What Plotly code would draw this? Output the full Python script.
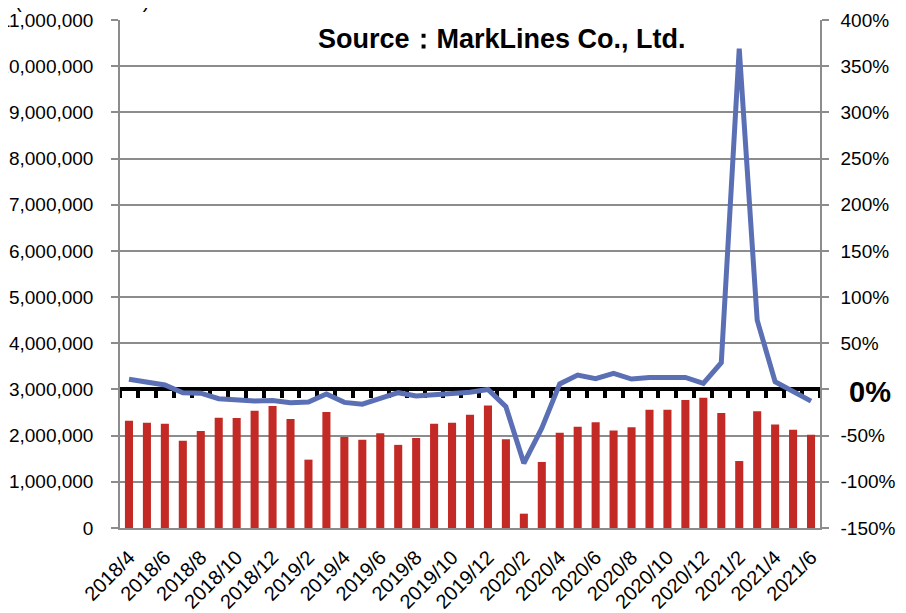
import plotly.graph_objects as go

months = [
    "2018/4", "2018/5", "2018/6", "2018/7", "2018/8", "2018/9", "2018/10", "2018/11", "2018/12",
    "2019/1", "2019/2", "2019/3", "2019/4", "2019/5", "2019/6", "2019/7", "2019/8", "2019/9",
    "2019/10", "2019/11", "2019/12", "2020/1", "2020/2", "2020/3", "2020/4", "2020/5", "2020/6",
    "2020/7", "2020/8", "2020/9", "2020/10", "2020/11", "2020/12", "2021/1", "2021/2", "2021/3",
    "2021/4", "2021/5", "2021/6",
]

# monthly sales (units), left axis
sales = [
    2320000, 2280000, 2260000, 1890000, 2100000, 2390000, 2380000, 2540000, 2640000,
    2360000, 1480000, 2510000, 1970000, 1910000, 2050000, 1800000, 1950000, 2260000,
    2280000, 2450000, 2650000, 1920000, 310000, 1430000, 2060000, 2190000, 2290000,
    2110000, 2180000, 2560000, 2560000, 2770000, 2820000, 2490000, 1450000, 2530000,
    2240000, 2130000, 2020000,
]

# year-on-year change (%), right axis
yoy = [
    11, 7.7, 4.8, -3.5, -4, -10, -11, -12.5, -12,
    -14.4, -13.5, -5, -14, -16, -9.7, -3.5, -7, -5.7,
    -4.3, -3, 0, -18.7, -80, -42, 6, 15.6, 11.6,
    17.4, 11.3, 13, 13, 13, 6.6, 29, 369, 75,
    8.3, -2, -12.6,
]

right_ticks = list(range(-150, 401, 50))
right_text = ["" if v == 0 else f"{v}%" for v in right_ticks]

FONT = "Arial, Liberation Sans, sans-serif"
GRID = "#8c8c8c"

fig = go.Figure()
fig.add_trace(go.Bar(x=months, y=sales, marker=dict(color="#c42a25", line=dict(width=0)),
                     xaxis="x", yaxis="y", showlegend=False))
fig.add_trace(go.Scatter(x=months, y=yoy, mode="lines", line=dict(color="#5b6fb4", width=5),
                         xaxis="x2", yaxis="y2", showlegend=False))

# the page body adds an 8px offset, so margins are set 8px tighter on top/left
fig.update_layout(
    width=906, height=613,
    margin=dict(l=112, r=94, t=12, b=93),
    plot_bgcolor="white", paper_bgcolor="white",
    font=dict(family=FONT, size=19, color="black"),
    bargap=0.55,
    xaxis=dict(
        type="category", categoryorder="array", categoryarray=months, range=[-0.5, 38.5],
        tickvals=months[::2], tickangle=-45, tickfont=dict(size=20), automargin=False,
        showline=True, linecolor=GRID, linewidth=1.5, ticks="", showgrid=False,
        ticklabelstandoff=8,
    ),
    xaxis2=dict(
        type="category", categoryorder="array", categoryarray=months, range=[-0.5, 38.5],
        overlaying="x", anchor="free", position=150 / 550, side="bottom", automargin=False,
        showline=True, linecolor="black", linewidth=4,
        ticks="outside", tickson="boundaries", ticklen=7, tickwidth=4, tickcolor="black",
        showticklabels=False, showgrid=False, layer="below traces",
    ),
    yaxis=dict(
        range=[0, 11000000], dtick=1000000, tickformat=",", showgrid=True, automargin=False,
        gridcolor=GRID, gridwidth=1.5, showline=True, linecolor=GRID, linewidth=1.5,
        ticks="outside", ticklen=7, tickcolor=GRID, tickwidth=1.5, zeroline=False,
        ticklabelstandoff=14,
    ),
    yaxis2=dict(
        range=[-150, 400], overlaying="y", side="right", anchor="x", automargin=False,
        tickvals=right_ticks, ticktext=right_text, showgrid=False, zeroline=False,
        showline=True, linecolor=GRID, linewidth=1.5,
        ticks="outside", ticklen=7, tickcolor=GRID, tickwidth=1.5,
        ticklabelstandoff=8,
    ),
    annotations=[
        dict(text="<b>Source：MarkLines Co., Ltd.</b>", xref="paper", yref="paper",
             x=(502 - 120) / 700, y=1 - (39 - 20) / 508, xanchor="center", yanchor="middle",
             showarrow=False, font=dict(size=27)),
        dict(text="<b>0%</b>", xref="paper", yref="y2", x=1 + 27 / 700, y=-3,
             xanchor="left", yanchor="middle", showarrow=False, font=dict(size=29)),
        dict(text="(Unit: Vehicles)", xref="paper", yref="paper",
             x=-38 / 700, y=1 + 6 / 508, xanchor="center", yanchor="bottom",
             showarrow=False, font=dict(size=20)),
    ],
)

fig.write_html("out.html")
